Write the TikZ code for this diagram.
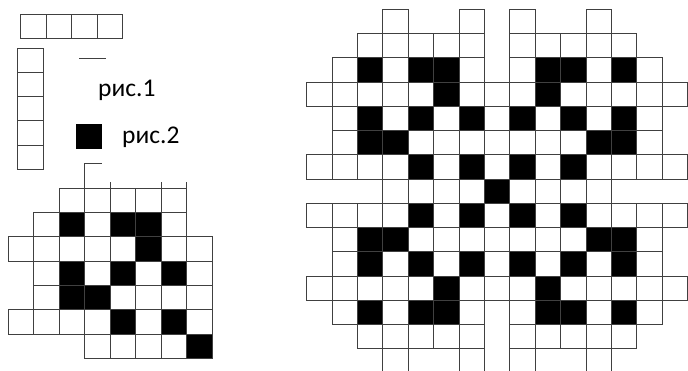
\documentclass[tikz,border=0pt]{standalone}
\usepackage{fontspec}
\setmainfont{Carlito}
\begin{document}
\begin{tikzpicture}[x=1pt,y=-1pt,
  cell/.style={draw=black!75, line width=1pt},
  lbl/.style={font=\fontsize{25.5}{30}\selectfont, inner sep=0pt, anchor=base west}]
\useasboundingbox (0,0) rectangle (688,371);
\clip (0,0) rectangle (688,371);
\def\quadcells{0/3/white,0/6/white,1/2/white,1/3/white,1/4/white,1/5/white,1/6/white,2/1/white,2/2/black,2/3/white,2/4/black,2/5/black,2/6/white,3/0/white,3/1/white,3/2/white,3/3/white,3/4/white,3/5/black,3/6/white,3/7/white,4/1/white,4/2/black,4/3/white,4/4/black,4/5/white,4/6/black,4/7/white,5/1/white,5/2/black,5/3/black,5/4/white,5/5/white,5/6/white,5/7/white,6/0/white,6/1/white,6/2/white,6/3/white,6/4/black,6/5/white,6/6/black,6/7/white,7/3/white,7/4/white,7/5/white,7/6/white,7/7/black}
% big pattern
\def\bx{306.7}\def\by{9.3}\def\bw{25.4}\def\bh{24.26}
\foreach \r/\c/\f in \quadcells {
  \pgfmathtruncatemacro\rr{14-\r}
  \pgfmathtruncatemacro\cc{14-\c}
  \foreach \R in {\r,\rr}{
    \foreach \C in {\c,\cc}{
      \filldraw[cell, fill=\f] ({\bx+\C*\bw},{\by+\R*\bh}) rectangle ++(\bw,\bh);
    }
  }
}
% small pattern
\def\sx{8.5}\def\sy{164}\def\sw{25.47}\def\sh{24.3}
\foreach \r/\c/\f in \quadcells {
  \ifnum\r>0
    \filldraw[cell, fill=\f] ({\sx+\c*\sw},{\sy+\r*\sh}) rectangle ++(\sw,\sh);
  \fi
}
\draw[cell] ({\sx+3*\sw},{\sy+\sh}) -- ({\sx+3*\sw},\sy) -- ({\sx+3*\sw+16.6},\sy);
\foreach \k in {4,6,7}
  \draw[cell] ({\sx+\k*\sw},{\sy+\sh}) -- ({\sx+\k*\sw},{\sy+\sh-6.6});
% rows of cells top left
\foreach \k in {0,...,3}
  \draw[cell] ({20.7+25.5*\k},15) rectangle ++(25.5,24);
\foreach \k in {0,...,4}
  \draw[cell] (17.7,{48.3+24.2*\k}) rectangle ++(26,24.2);
\draw[cell] (79,59) -- (105.7,59);
% legend
\fill[black] (75.7,124.3) rectangle (101.7,149.3);
\node[lbl] (t1) at (98,96.7) {рис.1};
\node[lbl] (t2) at (122,144) {рис.2};
\end{tikzpicture}
\end{document}
